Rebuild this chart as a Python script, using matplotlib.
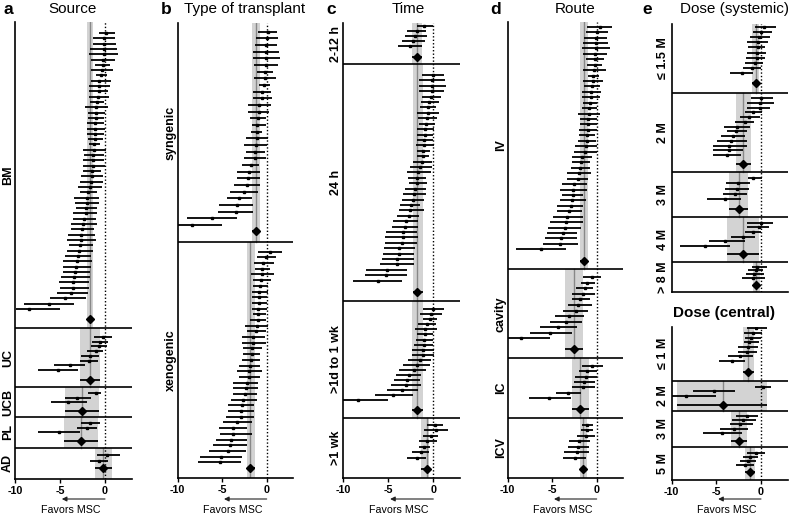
import numpy as np
import matplotlib.pyplot as plt

W, H = 789, 516

plt.rcParams['font.family'] = ['Liberation Sans', 'DejaVu Sans']

# ---- data: each study is (effect, lower CI, upper CI); pooled likewise ----

# a  Source
SRC_BM = [
    (0.11, -0.70, 1.11), (-0.07, -1.30, 1.11), (-0.07, -1.37, 1.19), (-0.11, -1.67, 1.33),
    (-0.11, -1.74, 1.41), (-0.19, -1.59, 1.15), (-0.26, -1.11, 0.56), (-0.30, -1.52, 0.89),
    (-0.44, -1.00, 0.26), (-0.63, -1.59, 0.63), (-0.67, -1.81, 0.56), (-0.70, -1.74, 0.37),
    (-0.78, -1.74, 0.41), (-0.89, -1.67, -0.07), (-0.96, -2.19, 0.33), (-1.00, -1.85, 0.04),
    (-1.04, -1.89, -0.07), (-1.07, -1.96, -0.07), (-1.11, -1.96, 0.04), (-1.11, -1.96, -0.11),
    (-1.11, -1.85, -0.19), (-1.22, -1.74, -0.56), (-1.22, -2.48, 0.07), (-1.30, -2.33, -0.07),
    (-1.37, -2.41, -0.07), (-1.37, -2.48, 0.00), (-1.44, -2.41, -0.48), (-1.48, -2.67, -0.19),
    (-1.59, -2.78, -0.26), (-1.67, -2.96, -0.30), (-1.85, -2.78, -0.93), (-1.96, -3.44, -0.63),
    (-2.04, -3.33, -0.70), (-2.11, -3.22, -0.85), (-2.15, -3.52, -0.93), (-2.30, -3.59, -1.04),
    (-2.48, -3.81, -0.93), (-2.56, -3.81, -1.22), (-2.63, -4.07, -1.11), (-2.70, -4.19, -1.04),
    (-2.78, -3.96, -1.30), (-2.85, -4.19, -1.30), (-3.04, -4.41, -1.59), (-3.15, -4.70, -1.48),
    (-3.22, -4.70, -1.56), (-3.33, -4.70, -1.67), (-3.44, -4.93, -1.67), (-3.52, -5.07, -1.74),
    (-3.59, -5.00, -1.74), (-3.81, -5.30, -1.85), (-4.41, -6.11, -2.11), (-6.19, -9.00, -3.44),
    (-8.41, -9.89, -5.00),
]
SRC_BM_POOL = (-1.62, -1.96, -1.30)
SRC_UC = [
    (-0.19, -1.22, 0.81), (-0.56, -1.48, 0.33), (-0.67, -1.59, 0.19), (-1.04, -1.96, -0.19),
    (-1.70, -2.70, -0.67), (-1.78, -2.80, -0.78), (-3.93, -5.67, -2.26), (-5.20, -7.50, -2.96),
]
SRC_UC_POOL = (-1.70, -2.75, -0.60)
SRC_UCB = [(-1.04, -1.89, -0.41), (-3.07, -4.48, -1.59), (-4.07, -5.96, -2.04)]
SRC_UCB_POOL = (-2.56, -4.40, -0.70)
SRC_PL = [(-1.67, -2.70, -0.56), (-1.96, -3.15, -0.85), (-5.10, -7.44, -2.81)]
SRC_PL_POOL = (-2.70, -4.60, -0.78)
SRC_AD = [(0.26, -0.93, 1.67), (-0.67, -1.70, 0.37)]
SRC_AD_POOL = (-0.22, -1.15, 0.75)

# b  Type of transplant
TX_SYN = [
    (0.19, -0.94, 1.20), (0.00, -1.20, 1.31), (-0.07, -1.31, 1.20), (-0.07, -1.50, 1.42),
    (-0.07, -1.57, 1.50), (-0.11, -1.42, 1.31), (-0.15, -1.05, 0.75), (-0.19, -1.42, 1.05),
    (-0.30, -0.86, 0.37), (-0.52, -1.50, 0.49), (-0.56, -1.57, 0.56), (-0.86, -2.06, 0.45),
    (-0.90, -2.06, 0.30), (-0.97, -1.87, -0.07), (-1.05, -1.69, -0.07), (-1.12, -1.76, -0.56),
    (-1.12, -2.32, 0.19), (-1.24, -2.51, 0.07), (-1.31, -2.32, -0.15), (-1.35, -2.55, -0.07),
    (-1.76, -2.81, -0.82), (-2.02, -3.30, -0.75), (-2.10, -3.37, -0.75), (-2.25, -3.67, -0.75),
    (-2.55, -4.12, -0.94), (-3.11, -4.49, -1.69), (-3.37, -5.32, -1.50), (-3.45, -5.43, -1.57),
    (-6.18, -8.99, -3.37), (-8.43, -9.93, -5.06),
]
TX_SYN_POOL = (-1.22, -1.65, -0.80)
TX_XEN = [
    (0.37, -0.94, 1.76), (-0.07, -1.12, 1.05), (-0.37, -1.42, 0.82), (-0.49, -1.31, 0.37),
    (-0.56, -1.80, 0.82), (-0.64, -1.57, 0.49), (-0.75, -1.57, 0.19), (-0.82, -1.69, 0.11),
    (-0.86, -1.69, 0.07), (-0.90, -1.69, 0.07), (-0.94, -1.65, 0.07), (-0.97, -1.57, -0.07),
    (-1.01, -1.87, -0.07), (-1.12, -2.43, 0.19), (-1.20, -2.25, -0.07), (-1.50, -2.81, -0.19),
    (-1.57, -2.81, -0.07), (-1.61, -2.62, -0.56), (-1.65, -2.70, -0.75), (-1.72, -2.81, -0.75),
    (-1.87, -3.07, -0.75), (-1.95, -3.30, -0.56), (-1.99, -3.11, -0.75), (-2.25, -3.75, -0.94),
    (-2.36, -3.75, -1.01), (-2.43, -3.82, -1.05), (-2.62, -4.04, -1.12), (-2.77, -4.31, -1.39),
    (-2.88, -4.38, -1.39), (-2.92, -4.57, -1.39), (-3.37, -4.94, -1.69), (-3.75, -5.32, -2.17),
    (-3.82, -5.24, -1.69), (-4.04, -5.73, -2.17), (-4.12, -5.99, -2.17), (-4.38, -6.44, -2.32),
    (-5.17, -7.49, -2.81), (-5.24, -7.68, -2.92),
]
TX_XEN_POOL = (-1.87, -2.25, -1.35)

# c  Time
TIME_12H = [
    (-1.04, -1.85, -0.07), (-1.85, -2.89, -0.81), (-2.04, -3.15, -0.74),
    (-2.30, -3.52, -0.93), (-2.59, -3.89, -1.30),
]
TIME_12H_POOL = (-1.85, -2.41, -1.30)
TIME_24H = [
    (-0.07, -1.30, 1.19), (-0.11, -1.56, 1.33), (-0.15, -1.63, 1.41), (-0.19, -1.59, 1.19),
    (-0.26, -1.26, 0.81), (-0.44, -1.33, 0.63), (-0.56, -1.48, 0.30), (-0.63, -1.81, 0.63),
    (-0.67, -1.70, 0.44), (-0.81, -1.63, 0.19), (-0.89, -1.78, 0.07), (-0.93, -1.78, 0.00),
    (-1.00, -1.85, 0.00), (-1.04, -1.93, 0.07), (-1.11, -1.78, -0.37), (-1.19, -1.78, -0.44),
    (-1.30, -2.30, -0.19), (-1.48, -2.59, -0.11), (-1.74, -2.96, -0.30), (-1.78, -2.78, -0.81),
    (-1.85, -2.67, -0.74), (-2.04, -3.15, -0.81), (-2.11, -3.33, -0.81), (-2.22, -3.52, -1.04),
    (-2.52, -3.70, -1.48), (-2.59, -3.78, -1.04), (-2.67, -4.00, -1.63), (-3.04, -4.52, -1.67),
    (-3.15, -4.63, -1.67), (-3.33, -5.26, -1.78), (-3.41, -5.33, -1.67), (-3.52, -5.41, -1.85),
    (-3.78, -5.48, -2.04), (-3.85, -5.60, -2.15), (-4.00, -5.74, -2.15), (-4.07, -5.93, -2.15),
    (-5.19, -7.52, -2.89), (-5.26, -7.59, -2.96), (-6.19, -8.96, -3.52),
]
TIME_24H_POOL = (-1.78, -2.30, -1.19)
TIME_1WK = [
    (0.00, -1.11, 1.19), (-0.26, -1.48, 0.93), (-0.37, -1.11, 0.37), (-0.67, -1.74, 0.30),
    (-0.89, -2.04, 0.37), (-0.96, -1.85, -0.07), (-1.04, -1.93, -0.07), (-1.07, -2.15, 0.00),
    (-1.11, -2.41, 0.07), (-1.19, -2.41, 0.07), (-1.48, -2.78, -0.30), (-1.85, -3.41, -0.37),
    (-2.15, -3.78, -0.81), (-2.67, -4.15, -1.41), (-2.89, -4.37, -1.48), (-3.04, -4.70, -1.41),
    (-3.52, -5.19, -1.67), (-4.44, -6.48, -2.30), (-8.41, -10.0, -5.00),
]
TIME_1WK_POOL = (-1.78, -2.33, -1.11)
TIME_GT1WK = [
    (0.19, -0.67, 1.04), (0.30, -1.04, 1.67), (-0.26, -1.11, 0.56), (-0.67, -1.59, 0.44),
    (-1.04, -1.59, -0.37), (-1.41, -2.41, -0.44), (-1.85, -2.89, -0.81),
]
TIME_GT1WK_POOL = (-0.74, -1.37, -0.48)

# d  Route
RT_IV = [
    (0.37, -1.05, 1.69), (0.00, -1.20, 1.24), (-0.07, -1.42, 1.12), (-0.07, -1.50, 1.31),
    (-0.11, -1.61, 1.50), (-0.15, -1.50, 1.20), (-0.19, -1.20, 0.82), (-0.22, -1.05, 0.56),
    (-0.30, -1.50, 1.01), (-0.37, -0.94, 0.30), (-0.45, -1.50, 0.75), (-0.52, -1.42, 0.37),
    (-0.64, -1.69, 0.49), (-0.67, -1.69, 0.37), (-0.75, -1.57, 0.07), (-0.82, -1.69, 0.00),
    (-0.90, -2.13, 0.37), (-0.94, -1.87, 0.07), (-0.97, -1.87, 0.00), (-1.01, -1.95, 0.00),
    (-1.09, -1.95, -0.19), (-1.12, -2.06, -0.11), (-1.20, -2.43, 0.07), (-1.27, -2.55, 0.00),
    (-1.61, -2.77, -0.56), (-1.76, -2.81, -0.75), (-1.87, -2.92, -0.75), (-2.02, -3.37, -0.67),
    (-2.10, -3.30, -0.94), (-2.55, -3.93, -1.12), (-2.62, -4.12, -1.05), (-2.70, -3.93, -1.57),
    (-2.73, -4.12, -1.20), (-2.92, -4.42, -1.57), (-3.07, -4.42, -1.69), (-3.37, -4.94, -1.57),
    (-3.48, -5.24, -1.57), (-3.52, -5.43, -1.80), (-3.82, -5.62, -2.17), (-4.01, -5.81, -2.25),
    (-4.12, -6.07, -2.06), (-6.29, -9.06, -3.45),
]
RT_IV_POOL = (-1.42, -1.87, -0.94)
RT_CAV = [
    (-0.56, -1.57, 0.45), (-1.05, -1.80, -0.19), (-1.31, -2.32, -0.45), (-1.57, -2.81, -0.19),
    (-1.87, -2.81, -0.75), (-2.06, -3.18, -0.56), (-2.32, -3.75, -0.94), (-3.07, -4.68, -1.42),
    (-3.48, -5.24, -1.69), (-4.31, -6.37, -2.25), (-5.24, -7.49, -2.81), (-8.50, -9.93, -5.24),
]
RT_CAV_POOL = (-2.55, -3.52, -1.52)
RT_IC = [
    (-0.56, -1.69, 0.67), (-1.05, -1.95, 0.00), (-1.20, -2.43, 0.00), (-1.39, -2.55, -0.19),
    (-1.57, -2.81, -0.19), (-3.18, -4.57, -1.76), (-5.32, -7.57, -2.92),
]
RT_IC_POOL = (-1.87, -2.81, -0.90)
RT_ICV = [
    (-1.05, -1.69, -0.45), (-1.12, -1.80, -0.37), (-1.20, -2.25, -0.19), (-1.95, -3.07, -0.75),
    (-2.06, -3.18, -0.82), (-2.25, -3.63, -0.82), (-2.43, -3.75, -1.20),
]
RT_ICV_POOL = (-1.50, -1.93, -1.05)

# e  Dose (systemic)
SYS_15M = [
    (0.37, -0.67, 1.68), (-0.04, -0.93, 1.19), (-0.19, -1.23, 1.01), (-0.30, -1.53, 0.82),
    (-0.37, -1.42, 0.45), (-0.41, -1.60, 0.56), (-0.49, -1.68, 0.45), (-0.67, -1.79, 0.26),
    (-1.04, -2.05, -0.04), (-2.16, -3.47, -0.86),
]
SYS_15M_POOL = (-0.60, -0.97, -0.22)
SYS_2M = [
    (0.00, -1.16, 1.31), (-0.11, -1.60, 1.46), (-0.11, -1.53, 1.01), (-0.86, -1.79, 0.07),
    (-1.31, -2.35, -0.11), (-1.79, -2.91, -0.78), (-2.65, -4.10, -1.23), (-2.80, -3.84, -1.60),
    (-3.10, -4.48, -1.79), (-3.40, -4.96, -1.60), (-3.54, -5.34, -1.60), (-3.54, -5.41, -1.98),
    (-3.84, -5.41, -2.28),
]
SYS_2M_POOL = (-1.98, -2.80, -1.16)
SYS_3M = [
    (-0.93, -1.42, 0.07), (-2.54, -3.92, -1.23), (-2.65, -4.03, -1.31),
    (-2.91, -4.29, -1.60), (-4.03, -6.01, -2.28),
]
SYS_3M_POOL = (-2.43, -3.54, -1.42)
SYS_4M = [
    (-0.04, -1.53, 1.38), (-0.22, -1.60, 0.93), (-0.86, -1.79, -0.04),
    (-1.98, -3.40, -0.67), (-4.03, -5.78, -1.79), (-6.27, -9.07, -3.47),
]
SYS_4M_POOL = (-1.98, -3.84, -0.19)
SYS_8M = [(-0.49, -1.04, 0.63), (-0.56, -1.42, 0.19), (-0.78, -1.68, 0.34), (-0.86, -2.16, 0.45)]
SYS_8M_POOL = (-0.56, -0.93, -0.11)

# e  Dose (central)
CEN_1M = [
    (-0.56, -1.60, 0.63), (-0.93, -1.90, 0.07), (-1.16, -1.79, -0.04), (-1.31, -1.90, -0.19),
    (-1.42, -2.54, -0.30), (-1.53, -2.54, -0.49), (-2.35, -3.66, -0.86), (-3.21, -4.66, -1.79),
]
CEN_1M_POOL = (-1.42, -1.98, -0.80)
CEN_2M = [(0.26, -0.67, 1.08), (-5.26, -7.65, -2.91), (-8.40, -10.0, -5.04)]
CEN_2M_POOL = (-4.29, -9.45, 0.71)
CEN_3M = [
    (-1.60, -2.80, -0.30), (-1.98, -3.28, -0.56), (-2.35, -3.47, -0.93),
    (-3.02, -4.59, -1.42), (-4.40, -6.46, -2.16),
]
CEN_3M_POOL = (-2.43, -3.36, -1.60)
CEN_5M = [(-0.56, -1.60, 0.45), (-1.23, -1.98, -0.30), (-1.42, -2.35, -0.56), (-1.79, -2.80, -0.78)]
CEN_5M_POOL = (-1.23, -1.79, -0.67)

# ---- layout (figure pixels, y from the top) ----
BAND = '#d3d3d3'
POOL_LINE = '#888888'


def px_axes(fig, left, right, top, bottom):
    return fig.add_axes([left / W, 1 - bottom / H, (right - left) / W, (bottom - top) / H])


def draw_panel(ax, groups, top, bottom, seps, xlabels=True, lab_off=5):
    ax.set_xlim(-10, 3)
    ax.set_ylim(bottom, top)
    bounds = [top] + seps + [bottom]
    for i, (name, studies, pooled, first, last, dia) in enumerate(groups):
        y0, y1 = bounds[i], bounds[i + 1]
        est, lo, hi = np.array(studies).T
        ys = np.linspace(first, last, len(est))
        ax.fill_betweenx([y0, y1], pooled[1], pooled[2], color=BAND, lw=0, zorder=1)
        ax.plot([pooled[0], pooled[0]], [y0, y1], color=POOL_LINE, lw=1, zorder=2)
        ax.hlines(ys, lo, hi, color='black', lw=1.3, zorder=4)
        ax.plot(est, ys, 's', color='black', ms=1.8, zorder=5)
        ax.hlines(dia, pooled[1], pooled[2], color='black', lw=1.3, zorder=4)
        ax.plot(pooled[0], dia, 'D', color='black', ms=4.3, zorder=6)
        ax.annotate(name, xy=(0, (y0 + y1) / 2), xycoords=ax.get_yaxis_transform(),
                    xytext=(-lab_off, 0), textcoords='offset points', rotation=90,
                    ha='center', va='center', fontsize=9, fontweight='bold')
    for s in seps:
        ax.axhline(s, color='black', lw=1.2, zorder=7)
    ax.axvline(0, color='black', ls=(0, (1, 1.5)), lw=1, zorder=3)
    for side in ('top', 'right'):
        ax.spines[side].set_visible(False)
    for side in ('left', 'bottom'):
        ax.spines[side].set_linewidth(1.2)
    ax.set_yticks([])
    if xlabels:
        ax.set_xticks([-10, -5, 0])
        ax.set_xticklabels(['-10', '-5', '0'], fontsize=7.8, fontweight='bold')
        ax.tick_params(axis='x', length=3, width=1, pad=2)
        ax.annotate('', xy=(-4.8, 1 - 499 / H), xytext=(0, 1 - 499 / H),
                    xycoords=('data', 'figure fraction'),
                    arrowprops=dict(arrowstyle='-|>', lw=0.8, color='#222222',
                                    mutation_scale=7, shrinkA=0, shrinkB=0))
        ax.annotate('Favors MSC', xy=(-3.8, 1 - 510 / H), xycoords=('data', 'figure fraction'),
                    ha='center', va='center', fontsize=7.7)
    else:
        ax.set_xticks([])


fig = plt.figure(figsize=(W / 100, H / 100), dpi=100)

ax_a = px_axes(fig, 15, 132, 22, 479)
draw_panel(ax_a, [
    ('BM', SRC_BM, SRC_BM_POOL, 33, 309, 319.3),
    ('UC', SRC_UC, SRC_UC_POOL, 337, 370, 380),
    ('UCB', SRC_UCB, SRC_UCB_POOL, 393.3, 402.3, 411),
    ('PL', SRC_PL, SRC_PL_POOL, 423.3, 432, 440.7),
    ('AD', SRC_AD, SRC_AD_POOL, 455, 461, 468.3),
], 22, 479, [328.3, 387.3, 417.3, 447.7])

ax_b = px_axes(fig, 177.7, 293.4, 23, 477.7)
draw_panel(ax_b, [
    ('syngenic', TX_SYN, TX_SYN_POOL, 31.7, 225, 231.3),
    ('xenogenic', TX_XEN, TX_XEN_POOL, 251.7, 462.3, 468.3),
], 23, 477.7, [242.3])

ax_c = px_axes(fig, 343.3, 460.3, 22.7, 477.7)
draw_panel(ax_c, [
    ('2-12 h', TIME_12H, TIME_12H_POOL, 26, 46.3, 56.7),
    ('24 h', TIME_24H, TIME_24H_POOL, 75, 280.7, 291.7),
    ('>1d to 1 wk', TIME_1WK, TIME_1WK_POOL, 309.3, 400, 410),
    ('>1 wk', TIME_GT1WK, TIME_GT1WK_POOL, 425, 457.7, 469),
], 22.7, 477.7, [64.3, 300.7, 418.3])

ax_d = px_axes(fig, 507.7, 623.4, 21.7, 477.7)
draw_panel(ax_d, [
    ('IV', RT_IV, RT_IV_POOL, 26.7, 249.3, 260.7),
    ('cavity', RT_CAV, RT_CAV_POOL, 277.3, 338.3, 349.3),
    ('IC', RT_IC, RT_IC_POOL, 365.7, 398.3, 409.3),
    ('ICV', RT_ICV, RT_ICV_POOL, 425, 457.7, 469),
], 21.7, 477.7, [269.3, 358.3, 417.7])

ax_e1 = px_axes(fig, 671.7, 787.8, 24, 292)
draw_panel(ax_e1, [
    ('\u2264 1.5 M', SYS_15M, SYS_15M_POOL, 26.7, 73.3, 83.3),
    ('2 M', SYS_2M, SYS_2M_POOL, 98.3, 155, 164),
    ('3 M', SYS_3M, SYS_3M_POOL, 178.3, 199, 209),
    ('4 M', SYS_4M, SYS_4M_POOL, 222.7, 245.7, 254.3),
    ('> 8 M', SYS_8M, SYS_8M_POOL, 266.7, 277.7, 285),
], 24, 292, [92.7, 171.7, 216.7, 261.7], xlabels=False, lab_off=6.5)

ax_e2 = px_axes(fig, 671.7, 787.8, 326.7, 480)
draw_panel(ax_e2, [
    ('\u2264 1 M', CEN_1M, CEN_1M_POOL, 328.3, 361, 372.3),
    ('2 M', CEN_2M, CEN_2M_POOL, 386.7, 395.7, 405),
    ('3 M', CEN_3M, CEN_3M_POOL, 416, 432.7, 441),
    ('5 M', CEN_5M, CEN_5M_POOL, 452.7, 465, 471.7),
], 326.7, 480, [380.7, 411, 446.7], lab_off=6.5)

# panel letters and titles
for letter, x in [('a', 8), ('b', 166), ('c', 331), ('d', 496), ('e', 647)]:
    fig.text(x / W, 1 - 9 / H, letter, ha='center', va='center', fontsize=12.5, fontweight='bold')
for title, x in [('Source', 73), ('Type of transplant', 245), ('Time', 408),
                 ('Route', 575), ('Dose (systemic)', 735)]:
    fig.text(x / W, 1 - 9 / H, title, ha='center', va='center', fontsize=11)
fig.text(724 / W, 1 - 313 / H, 'Dose (central)', ha='center', va='center',
         fontsize=11, fontweight='bold')

fig.savefig('out.png', dpi=100)
